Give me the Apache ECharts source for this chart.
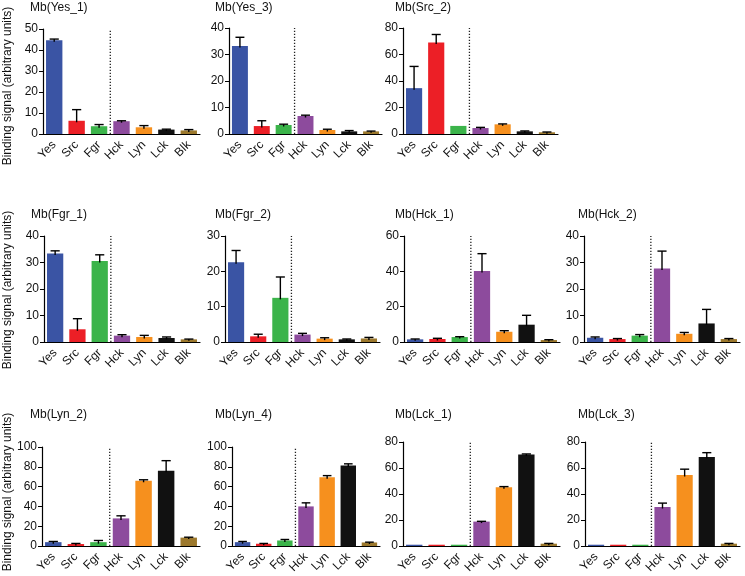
<!DOCTYPE html>
<html>
<head>
<meta charset="utf-8">
<script src="https://cdn.jsdelivr.net/npm/echarts@6/dist/echarts.min.js"></script>
<style>
  html, body { margin: 0; padding: 0; background: #fff; }
  #chart { width: 745px; height: 576px; }
</style>
</head>
<body>
<div id="chart"></div>
<script>
  // kinases on the x axis
  const categories = ['Yes', 'Src', 'Fgr', 'Hck', 'Lyn', 'Lck', 'Blk'];
  const kinaseColors = ['#3a54a4', '#ec1f26', '#3bb44a', '#8d4b9d', '#f6901e', '#111111', '#9c782c'];

  const panelTitles = ['Mb(Yes_1)', 'Mb(Yes_3)', 'Mb(Src_2)', 'Mb(Fgr_1)', 'Mb(Fgr_2)',
    'Mb(Hck_1)', 'Mb(Hck_2)', 'Mb(Lyn_2)', 'Mb(Lyn_4)', 'Mb(Lck_1)', 'Mb(Lck_3)'];
  const yMaxes = [50, 40, 80, 40, 30, 60, 40, 100, 100, 80, 80];
  const yIntervals = [10, 10, 20, 10, 10, 20, 10, 20, 20, 20, 20];

  // mean binding signal and upper error per panel
  const yes1Mean = [44.7, 6.3, 3.7, 6.1, 3.2, 2.1, 1.7];
  const yes1Err = [0.5, 5.3, 0.8, 0.2, 0.8, 0.2, 0.4];
  const yes3Mean = [33.2, 3.0, 3.4, 6.8, 1.5, 1.0, 1.0];
  const yes3Err = [3.3, 2.0, 0.3, 0.3, 0.3, 0.3, 0.1];
  const src2Mean = [34.6, 69.0, 6.1, 4.5, 7.3, 2.0, 1.3];
  const src2Err = [16.4, 6.1, 0, 0.5, 0.3, 0.3, 0.2];
  const fgr1Mean = [33.4, 4.8, 30.6, 2.4, 1.9, 1.5, 1.0];
  const fgr1Err = [1.0, 4.0, 2.3, 0.35, 0.6, 0.4, 0.1];
  const fgr2Mean = [22.6, 1.6, 12.5, 2.1, 0.95, 0.75, 1.0];
  const fgr2Err = [3.3, 0.6, 5.9, 0.35, 0.25, 0.1, 0.3];
  const hck1Mean = [1.5, 1.7, 2.8, 40.2, 5.8, 9.8, 1.1];
  const hck1Err = [0.2, 0.4, 0.2, 9.8, 0.6, 5.3, 0.2];
  const hck2Mean = [1.6, 1.1, 2.4, 27.7, 3.1, 7.0, 1.1];
  const hck2Err = [0.3, 0.2, 0.4, 6.6, 0.5, 5.3, 0.2];
  const lyn2Mean = [3.9, 2.0, 3.9, 27.9, 65.9, 76.1, 8.5];
  const lyn2Err = [0.7, 0.6, 1.7, 2.6, 1.0, 10.1, 0.4];
  const lyn4Mean = [3.9, 2.3, 5.6, 40.0, 69.5, 81.3, 3.6];
  const lyn4Err = [0.7, 0.3, 1.0, 3.6, 1.6, 1.7, 0.3];
  const lck1Mean = [1.0, 1.0, 1.0, 18.8, 45.2, 70.3, 1.8];
  const lck1Err = [0, 0, 0, 0.2, 0.5, 0.5, 0.2];
  const lck3Mean = [1.0, 1.0, 1.0, 30.0, 54.6, 68.5, 1.8];
  const lck3Err = [0, 0, 0, 3.0, 4.5, 3.3, 0.2];

  const panelMeans = [yes1Mean, yes3Mean, src2Mean, fgr1Mean, fgr2Mean, hck1Mean,
    hck2Mean, lyn2Mean, lyn4Mean, lck1Mean, lck3Mean];
  const panelErrs = [yes1Err, yes3Err, src2Err, fgr1Err, fgr2Err, hck1Err,
    hck2Err, lyn2Err, lyn4Err, lck1Err, lck3Err];

  // plot boxes: [x axis start, x axis end, top tick y, zero y]
  const boxes = [
    [43, 200, 29, 134], [229, 382, 28, 134], [403, 558, 28, 134],
    [44, 200, 236, 342], [225, 380, 236, 342], [404, 560, 236, 342], [584, 740, 236, 342],
    [42, 200, 447, 548], [232, 380, 447, 548], [403, 560, 442, 547], [585, 740, 442, 547]
  ];
  const titlePos = [
    [30, 9], [215, 9], [395, 9],
    [31, 216], [215, 216], [395, 216], [578, 216],
    [30, 416], [215, 416], [395, 416], [578, 416]
  ];

  const FONT = 'Liberation Sans';
  const W = 745, H = 576;

  const grid = [], xAxis = [], yAxis = [], series = [], title = [];

  panelTitles.forEach((name, p) => {
    const b = boxes[p];
    grid.push({ left: b[0], width: b[1] - b[0], top: b[2], height: b[3] - b[2] });
    title.push({
      text: name, left: titlePos[p][0], top: titlePos[p][1] - 7, padding: 0,
      textStyle: { fontFamily: FONT, fontSize: 12, fontWeight: 'normal', color: '#111' }
    });
    xAxis.push({
      type: 'category', gridIndex: p, data: categories,
      axisLine: { lineStyle: { color: '#000', width: 1.2 } },
      axisTick: { alignWithLabel: true, length: 4, lineStyle: { color: '#000' } },
      axisLabel: {
        rotate: 45, interval: 0, margin: 9, fontFamily: FONT, fontSize: 12, color: '#111'
      }
    });
    yAxis.push({
      type: 'value', gridIndex: p, min: 0, max: yMaxes[p], interval: yIntervals[p],
      axisLine: { show: true, lineStyle: { color: '#000', width: 1.2 } },
      axisTick: { show: true, length: 4, lineStyle: { color: '#000' } },
      splitLine: { show: false },
      axisLabel: { margin: 5, fontFamily: FONT, fontSize: 12, color: '#111' }
    });
    series.push({
      type: 'bar', xAxisIndex: p, yAxisIndex: p, barCategoryGap: '27%',
      data: panelMeans[p].map((v, i) => ({
        value: v,
        itemStyle: { color: kinaseColors[i] }
      })),
      silent: true, animation: false
    });
    const yMax = yMaxes[p];
    series.push({
      type: 'custom', xAxisIndex: p, yAxisIndex: p, z: 5, silent: true, animation: false,
      data: panelMeans[p].map((v, i) => [i, v, panelErrs[p][i]]),
      encode: { x: 0, y: 1 },
      renderItem: function (params, api) {
        const i = api.value(0), m = api.value(1), e = api.value(2);
        const bw = api.size([1, 0])[0];
        const base = api.coord([i, m]);
        const top = api.coord([i, m + e]);
        const half = bw * 0.73 * 0.28;
        const children = [];
        if (e > 0) {
          children.push({
            type: 'line', shape: { x1: base[0], y1: base[1] + 1.5, x2: top[0], y2: top[1] },
            style: { stroke: '#000', lineWidth: 1.4 }
          });
          children.push({
            type: 'line', shape: { x1: top[0] - half, y1: top[1], x2: top[0] + half, y2: top[1] },
            style: { stroke: '#000', lineWidth: 1.4 }
          });
        }
        if (i === 3) {
          const z0 = api.coord([i, 0]);
          const zt = api.coord([i, yMax]);
          const xd = z0[0] - bw / 2;
          children.push({
            type: 'line', shape: { x1: xd, y1: z0[1], x2: xd, y2: zt[1] },
            style: { stroke: '#222', lineWidth: 1.3, lineDash: [1.3, 1.7] }
          });
        }
        return { type: 'group', children: children };
      }
    });
  });

  // shared y axis names, one per row
  const rowNameCenters = [86, 290, 492];
  const graphic = rowNameCenters.map(cy => ({
    type: 'text', x: 8, y: cy, rotation: Math.PI / 2,
    style: {
      text: 'Binding signal (arbitrary units)', fontFamily: FONT, fontSize: 12,
      fill: '#111', align: 'center', verticalAlign: 'middle'
    }
  }));

  const chart = echarts.init(document.getElementById('chart'), null, { width: W, height: H });
  chart.setOption({
    backgroundColor: '#fff',
    animation: false,
    title: title,
    grid: grid,
    xAxis: xAxis,
    yAxis: yAxis,
    series: series,
    graphic: graphic
  });
</script>
</body>
</html>
